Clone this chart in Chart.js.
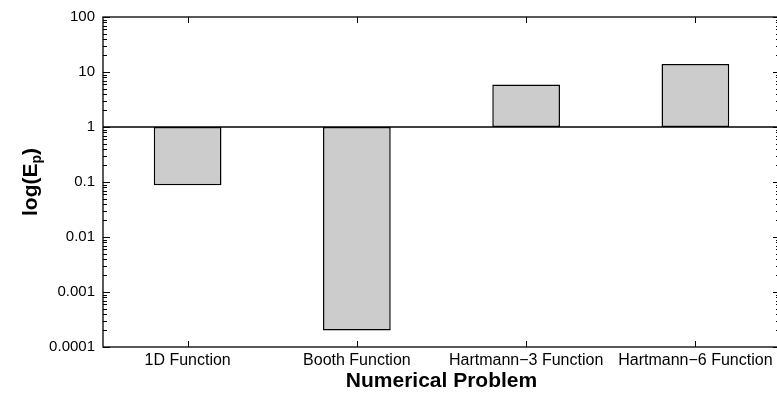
<!DOCTYPE html>
<html>
<head>
<meta charset="utf-8">
<script src="https://cdn.jsdelivr.net/npm/chart.js@4/dist/chart.umd.min.js"></script>
<style>
html,body{margin:0;padding:0;background:#fff;overflow:hidden;}
#wrap{width:781px;height:394px;}
</style>
</head>
<body>
<div id="wrap"><canvas id="c" width="781" height="394"></canvas></div>
<script>
const categories = ['1D Function', 'Booth Function', 'Hartmann\u22123 Function', 'Hartmann\u22126 Function'];
const baseValue = 1;
const errorValues = [0.087, 0.0002, 5.9, 14];
const yTickValues = [0.0001, 0.001, 0.01, 0.1, 1, 10, 100];
const yTickLabels = ['0.0001', '0.001', '0.01', '0.1', '1', '10', '100'];
const xTitle = 'Numerical Problem';
const yTitleMain = 'log(E';
const yTitleSub = 'p';
const yTitleEnd = ')';

const FONT = '"Liberation Sans", Arial, Helvetica, sans-serif';

const framePlugin = {
  id: 'frame',
  afterDatasetsDraw(chart) {
    const ctx = chart.ctx;
    const a = chart.chartArea;
    const x = chart.scales.x, y = chart.scales.y;
    ctx.save();
    ctx.strokeStyle = '#000';
    ctx.lineWidth = 1.5;
    const yb = y.getPixelForValue(baseValue);
    ctx.beginPath(); ctx.moveTo(a.left, yb); ctx.lineTo(a.right, yb); ctx.stroke();
    ctx.lineWidth = 1.3;
    ctx.strokeRect(a.left, a.top, a.right - a.left, a.bottom - a.top);
    ctx.lineWidth = 1;
    const lo = Math.log10(yTickValues[0]), hi = Math.log10(yTickValues[yTickValues.length - 1]);
    for (let d = lo; d <= hi; d++) {
      const majorPx = Math.round(y.getPixelForValue(Math.pow(10, d))) + 0.5;
      ctx.beginPath();
      ctx.moveTo(a.left, majorPx); ctx.lineTo(a.left + 7, majorPx);
      ctx.moveTo(a.right, majorPx); ctx.lineTo(a.right - 7, majorPx);
      ctx.stroke();
      if (d < hi) {
        for (let k = 2; k <= 9; k++) {
          const p = Math.round(y.getPixelForValue(k * Math.pow(10, d))) + 0.5;
          ctx.beginPath();
          ctx.moveTo(a.left, p); ctx.lineTo(a.left + 4, p);
          ctx.moveTo(a.right, p); ctx.lineTo(a.right - 4, p);
          ctx.stroke();
        }
      }
    }
    categories.forEach((c, i) => {
      const px = Math.round(x.getPixelForValue(i)) + 0.5;
      ctx.beginPath();
      ctx.moveTo(px, a.bottom); ctx.lineTo(px, a.bottom - 6);
      ctx.moveTo(px, a.top); ctx.lineTo(px, a.top + 6);
      ctx.stroke();
    });
    ctx.fillStyle = '#000';
    const mainFont = 'bold 21px ' + FONT;
    const subFont = 'bold 14px ' + FONT;
    ctx.font = mainFont;
    const w1 = ctx.measureText(yTitleMain).width;
    const w3 = ctx.measureText(yTitleEnd).width;
    ctx.font = subFont;
    const w2 = ctx.measureText(yTitleSub).width;
    const total = w1 + w2 + w3;
    ctx.translate(30, (a.top + a.bottom) / 2);
    ctx.rotate(-Math.PI / 2);
    ctx.textBaseline = 'alphabetic';
    ctx.textAlign = 'left';
    let sx = -total / 2;
    ctx.font = mainFont;
    ctx.fillText(yTitleMain, sx, 7); sx += w1;
    ctx.font = subFont;
    ctx.fillText(yTitleSub, sx, 11); sx += w2;
    ctx.font = mainFont;
    ctx.fillText(yTitleEnd, sx, 7);
    ctx.restore();
  }
};

new Chart(document.getElementById('c'), {
  type: 'bar',
  data: {
    labels: categories,
    datasets: [{
      data: errorValues.map(v => [baseValue, v]),
      backgroundColor: '#cccccc',
      borderColor: '#000000',
      borderWidth: 1.5,
      borderSkipped: false,
      categoryPercentage: 1.0,
      barPercentage: 0.4
    }]
  },
  options: {
    responsive: false,
    animation: false,
    devicePixelRatio: 1,
    layout: { padding: { top: 16, right: 1, left: 0, bottom: 0 } },
    plugins: { legend: { display: false }, tooltip: { enabled: false } },
    scales: {
      x: {
        offset: true,
        grid: { display: false, drawTicks: false },
        border: { display: false },
        ticks: { color: '#000', font: { family: FONT, size: 16 }, padding: 4, maxRotation: 0, autoSkip: false },
        title: { display: true, text: xTitle, color: '#000', font: { family: FONT, size: 21, weight: 'bold' }, padding: { top: 0, bottom: 0 } },
        afterFit(s) { s.height = 47; }
      },
      y: {
        type: 'logarithmic',
        min: yTickValues[0],
        max: yTickValues[yTickValues.length - 1],
        grid: { display: false, drawTicks: false },
        border: { display: false },
        afterBuildTicks(s) { s.ticks = yTickValues.map(v => ({ value: v })); },
        ticks: {
          color: '#000',
          font: { family: FONT, size: 15 },
          padding: 8,
          autoSkip: false,
          callback(v) {
            let idx = yTickValues.findIndex(t => Math.abs(Math.log10(t) - Math.log10(v)) < 1e-6);
            return idx >= 0 ? yTickLabels[idx] : '';
          }
        },
        afterFit(s) { s.width = 103; }
      }
    }
  },
  plugins: [framePlugin]
});
</script>
</body>
</html>
